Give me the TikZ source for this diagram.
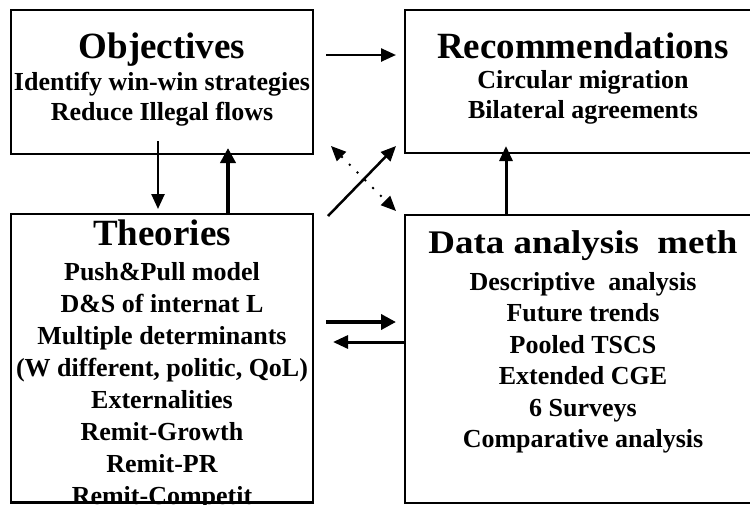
\documentclass[tikz,border=0pt]{standalone}
\usepackage{fontspec}
\setmainfont{Liberation Serif}
\newfontfamily\widebf[FakeStretch=1.12]{Liberation Serif Bold}
\usetikzlibrary{positioning,arrows.meta,calc}

\begin{document}
\begin{tikzpicture}[
  x=1pt, y=-1pt,
  blk/.style  = {draw, line width=2pt, inner sep=0pt},
  ttl/.style  = {font=\fontsize{37}{40}\selectfont\bfseries, anchor=base, inner sep=0pt},
  itm/.style  = {font=\fontsize{26}{30}\selectfont\bfseries, anchor=base, inner sep=0pt},
  ar/.style   = {-{Triangle[length=15pt, width=13pt]}, line width=2.5pt},
  arb/.style  = {-{Triangle[length=15pt, width=15pt]}, line width=4.5pt},
  dot/.style  = {{Triangle[length=15pt, width=13pt]}-{Triangle[length=15pt, width=13pt]},
                 line width=2pt, dash pattern=on 2pt off 9pt},
]
\useasboundingbox (0,0) rectangle (750,504);

% ======================= boxes =========================================
\node[blk, minimum width=302pt, minimum height=144pt] (objbox)  at (162,82)  {};
\node[blk, minimum width=356pt, minimum height=143pt] (recbox)  at (583,81.5) {};
\node[blk, minimum width=302pt, minimum height=288pt] (theobox) at (162,358) {};
\node[blk, minimum width=356pt, minimum height=288pt] (databox) at (583,359) {};

% ======================= texts =========================================
\node[ttl] (objttl) at (162,58) {Objectives};
\foreach \t [count=\i from 0] in {Identify win-win strategies, Reduce Illegal flows}
  \node[itm] (obj\i) at (162, 90+30*\i) {\t};

\node[ttl] (recttl) at (583,58) {Recommendations};
\foreach \t [count=\i from 0] in {Circular migration, Bilateral agreements}
  \node[itm] (rec\i) at (583, 88+30*\i) {\t};

\node[ttl] (theottl) at (162,245) {Theories};
\foreach \t [count=\i from 0] in {Push\&Pull model, D\&S of internat L,
    Multiple determinants, {(W different, politic, QoL)}, Externalities,
    Remit-Growth, Remit-PR, Remit-Competit}
  \node[itm] (theo\i) at (162, 280+32*\i) {\t};

\node[ttl, font=\fontsize{33}{36}\widebf] (datattl) at (583,253) {Data analysis\ \ meth};
\foreach \t [count=\i from 0] in {Descriptive\ \ analysis, Future trends, Pooled TSCS,
    Extended CGE, 6 Surveys, Comparative analysis}
  \node[itm] (data\i) at (583, 290+31.5*\i) {\t};

% redraw borders over the clipped last line
\draw[line width=2pt] (theobox.south west) -- (theobox.south east);

% ======================= connectors ====================================
\draw[ar] ([xshift=12pt,yshift=27pt]objbox.east) -- ([xshift=-8pt,yshift=26.5pt]recbox.west);
\draw[ar] ([xshift=-4pt,yshift=14pt]objbox.south) -- ([xshift=-4pt,yshift=4pt]theobox.north);
\draw[arb, line width=4pt] ([xshift=66pt,yshift=-2pt]theobox.north) -- ([xshift=66pt,yshift=7pt]objbox.south);
\draw[ar, line width=3pt] ([xshift=-77pt]databox.north) -- ([xshift=-77pt,yshift=8pt]recbox.south);
\draw[ar] ([xshift=14pt,yshift=-3pt]theobox.north east) -- ([xshift=-8pt,yshift=8pt]recbox.south west);
\draw[dot] ([xshift=17pt,yshift=9pt]objbox.south east) -- ([xshift=-8pt,yshift=3pt]databox.north west);
\draw[arb] ([xshift=12pt,yshift=36pt]theobox.east) -- ([xshift=-8pt,yshift=37pt]databox.west);
\draw[ar, line width=3pt] ([yshift=17pt]databox.west) -- ([xshift=19pt,yshift=16pt]theobox.east);

\end{tikzpicture}
\end{document}
